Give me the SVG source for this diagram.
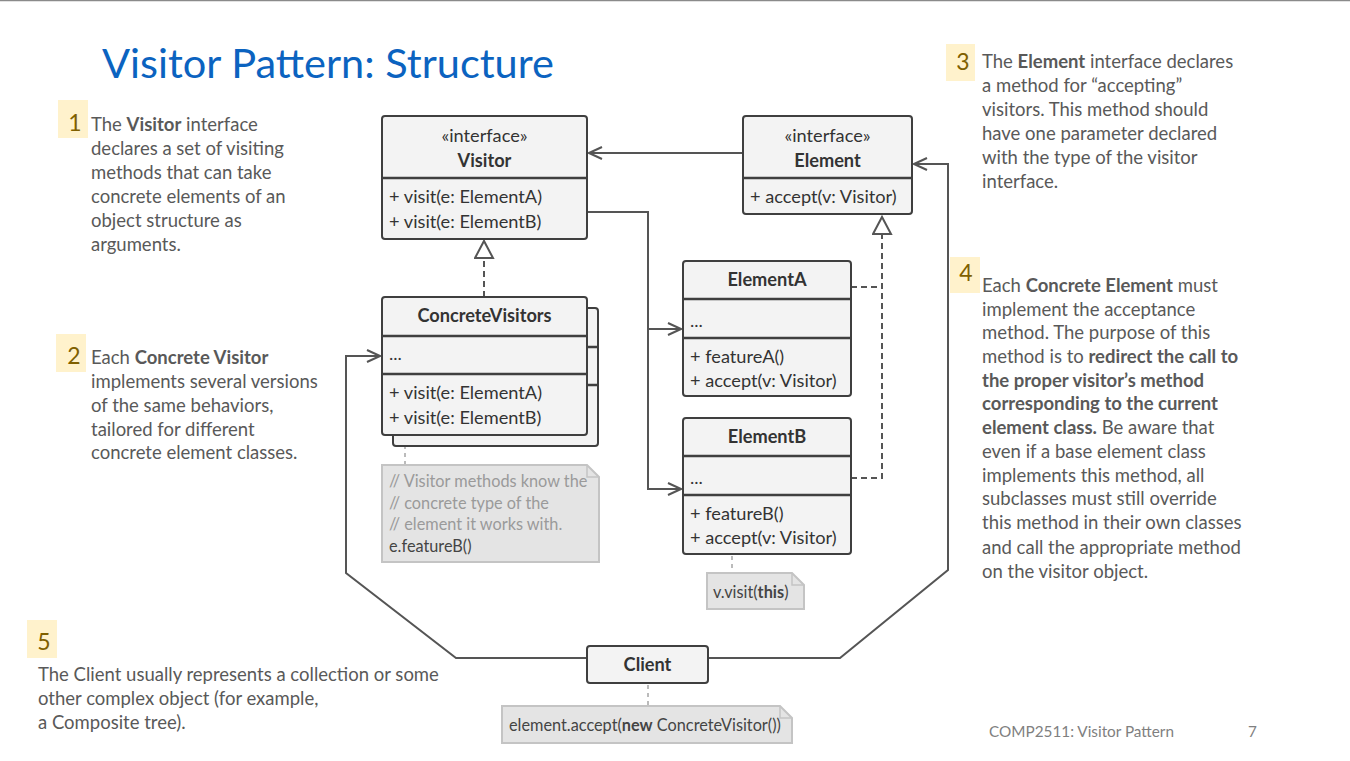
<svg xmlns="http://www.w3.org/2000/svg" width="1350" height="761" viewBox="0 0 1350 761">
<style>
.bg{fill:#ffffff}
.box{fill:#f3f3f3;stroke:#3f3f3f;stroke-width:2}
.div{stroke:#3f3f3f;stroke-width:2.5}
.t{font-family:"Lato","Noto Sans","Liberation Sans",sans-serif;font-size:18.2px;fill:#333}
.b{font-weight:bold}
.c{text-anchor:middle}
.note{fill:#e4e4e4;stroke:#c4c4c4;stroke-width:2}
.nt{font-family:"Lato","Noto Sans","Liberation Sans",sans-serif;font-size:16.3px;fill:#9a9a9a}
.nd{fill:#444}
.con{fill:none;stroke:#555;stroke-width:2}
.dash{fill:none;stroke:#555;stroke-width:2;stroke-dasharray:6,4}
.ndash{fill:none;stroke:#bbb;stroke-width:2;stroke-dasharray:4,4}
.ann{font-family:"Lato","Liberation Sans",sans-serif;font-size:18.5px;fill:#595959}
.badge{fill:#fff2cc}
.num{font-family:"Lato","Liberation Sans",sans-serif;font-size:23px;fill:#7f6000;text-anchor:middle}
.title{font-family:"Lato","Liberation Sans",sans-serif;font-size:41.5px;fill:#0b63c0}
.foot{font-family:"Lato","Liberation Sans",sans-serif;font-size:15.3px;fill:#808080}
</style>
<defs>
<marker id="open" markerWidth="16" markerHeight="16" refX="14" refY="7" orient="auto" markerUnits="userSpaceOnUse"><path d="M1,1 L14,7 L1,13" fill="none" stroke="#555" stroke-width="2" stroke-dasharray="none"/></marker>
<marker id="tri" markerWidth="24" markerHeight="24" refX="19" refY="10" orient="auto" markerUnits="userSpaceOnUse"><path d="M2,1 L19,10 L2,19 Z" fill="#ffffff" stroke="#555" stroke-width="2" stroke-dasharray="none"/></marker>
</defs>
<rect class="bg" x="0" y="0" width="1350" height="761"/>
<line x1="0" y1="0.5" x2="1350" y2="0.5" stroke="#8a8a8a" stroke-width="1.5"/>

<text class="title" x="102" y="78">Visitor Pattern: Structure</text>

<g id="connectors">
<path class="con" d="M743,153 H589" marker-end="url(#open)"/>
<path class="dash" d="M484,297 V241" marker-end="url(#tri)"/>
<path class="dash" d="M851,478 H882 V217" marker-end="url(#tri)"/>
<path class="dash" d="M851,287 H882"/>
<path class="con" d="M587,212 H648 V489 H681" marker-end="url(#open)"/>
<path class="con" d="M648,329 H681" marker-end="url(#open)"/>
<path class="con" d="M587,658 H456 L346,573 V356 H380" marker-end="url(#open)"/>
<path class="con" d="M708,658 H840 L948,570 V164 H914" marker-end="url(#open)"/>
<path class="ndash" d="M405,437 V465"/>
<path class="ndash" d="M732,556 V573"/>
<path class="ndash" d="M648,685 V706"/>
</g>

<g id="visitor">
<rect class="box" x="382" y="116" width="205" height="123" rx="3"/>
<line class="div" x1="382" y1="178" x2="587" y2="178"/>
<text class="t c" x="484.5" y="142">«interface»</text>
<text class="t c b" x="484.5" y="167">Visitor</text>
<text class="t" x="389" y="203">+ visit(e: ElementA)</text>
<text class="t" x="389" y="228">+ visit(e: ElementB)</text>
</g>

<g id="element">
<rect class="box" x="743" y="116" width="169" height="98" rx="3"/>
<line class="div" x1="743" y1="178" x2="912" y2="178"/>
<text class="t c" x="827.5" y="142">«interface»</text>
<text class="t c b" x="827.5" y="167">Element</text>
<text class="t" x="750" y="203">+ accept(v: Visitor)</text>
</g>

<g id="concrete-visitors">
<rect class="box" x="393" y="308" width="205" height="138" rx="3"/>
<line class="div" x1="393" y1="347" x2="598" y2="347"/>
<line class="div" x1="393" y1="385" x2="598" y2="385"/>
<rect class="box" x="382" y="297" width="205" height="138" rx="3"/>
<line class="div" x1="382" y1="336" x2="587" y2="336"/>
<line class="div" x1="382" y1="374" x2="587" y2="374"/>
<text class="t c b" x="484.5" y="322">ConcreteVisitors</text>
<text class="t" x="389" y="360">...</text>
<text class="t" x="389" y="399">+ visit(e: ElementA)</text>
<text class="t" x="389" y="424">+ visit(e: ElementB)</text>
</g>

<g id="note-visitor">
<path class="note" d="M382,465 H587 L599,477 V562 H382 Z"/>
<path d="M587,465 V477 H599" fill="none" stroke="#c4c4c4" stroke-width="1.5"/>
<text class="nt" x="389" y="487">// Visitor methods know the</text>
<text class="nt" x="389" y="509">// concrete type of the</text>
<text class="nt" x="389" y="530">// element it works with.</text>
<text class="nt nd" x="389" y="552">e.featureB()</text>
</g>

<g id="elementA">
<rect class="box" x="683" y="261" width="168" height="135" rx="3"/>
<line class="div" x1="683" y1="299" x2="851" y2="299"/>
<line class="div" x1="683" y1="338" x2="851" y2="338"/>
<text class="t c b" x="767" y="286">ElementA</text>
<text class="t" x="690" y="327">...</text>
<text class="t" x="690" y="363">+ featureA()</text>
<text class="t" x="690" y="387">+ accept(v: Visitor)</text>
</g>

<g id="elementB">
<rect class="box" x="683" y="418" width="168" height="136" rx="3"/>
<line class="div" x1="683" y1="456" x2="851" y2="456"/>
<line class="div" x1="683" y1="495" x2="851" y2="495"/>
<text class="t c b" x="767" y="443">ElementB</text>
<text class="t" x="690" y="484">...</text>
<text class="t" x="690" y="520">+ featureB()</text>
<text class="t" x="690" y="544">+ accept(v: Visitor)</text>
</g>

<g id="note-element">
<path class="note" d="M707,573 H792 L804,585 V609 H707 Z"/>
<path d="M792,573 V585 H804" fill="none" stroke="#c4c4c4" stroke-width="1.5"/>
<text class="nt nd" x="713" y="598">v.visit(<tspan class="b">this</tspan>)</text>
</g>

<g id="client">
<rect class="box" x="587" y="646" width="121" height="37" rx="3"/>
<text class="t c b" x="647.5" y="671">Client</text>
</g>

<g id="note-client">
<path class="note" d="M502,706 H780 L792,718 V743 H502 Z"/>
<path d="M780,706 V718 H792" fill="none" stroke="#c4c4c4" stroke-width="1.5"/>
<text class="nt nd" x="509" y="731">element.accept(<tspan class="b">new</tspan> ConcreteVisitor())</text>
</g>

<g id="ann1">
<rect class="badge" x="58" y="100" width="30" height="38"/>
<text class="num" x="75" y="131">1</text>
<text class="ann" x="91" y="131">The <tspan class="b">Visitor</tspan> interface</text>
<text class="ann" x="91" y="155">declares a set of visiting</text>
<text class="ann" x="91" y="179">methods that can take</text>
<text class="ann" x="91" y="203">concrete elements of an</text>
<text class="ann" x="91" y="227">object structure as</text>
<text class="ann" x="91" y="251">arguments.</text>
</g>

<g id="ann2">
<rect class="badge" x="56" y="334" width="30" height="38"/>
<text class="num" x="74" y="364">2</text>
<text class="ann" x="91" y="364">Each <tspan class="b">Concrete Visitor</tspan></text>
<text class="ann" x="91" y="388">implements several versions</text>
<text class="ann" x="91" y="412">of the same behaviors,</text>
<text class="ann" x="91" y="436">tailored for different</text>
<text class="ann" x="91" y="459">concrete element classes.</text>
</g>

<g id="ann3">
<rect class="badge" x="946" y="44" width="29" height="37"/>
<text class="num" x="963" y="70">3</text>
<text class="ann" x="982" y="68">The <tspan class="b">Element</tspan> interface declares</text>
<text class="ann" x="982" y="92">a method for “accepting”</text>
<text class="ann" x="982" y="116">visitors. This method should</text>
<text class="ann" x="982" y="140">have one parameter declared</text>
<text class="ann" x="982" y="164">with the type of the visitor</text>
<text class="ann" x="982" y="188">interface.</text>
</g>

<g id="ann4">
<rect class="badge" x="950" y="257" width="30" height="36"/>
<text class="num" x="966" y="281">4</text>
<text class="ann" x="982" y="292">Each <tspan class="b">Concrete Element</tspan> must</text>
<text class="ann" x="982" y="316">implement the acceptance</text>
<text class="ann" x="982" y="339">method. The purpose of this</text>
<text class="ann" x="982" y="363">method is to <tspan class="b">redirect the call to</tspan></text>
<text class="ann b" x="982" y="387">the proper visitor’s method</text>
<text class="ann b" x="982" y="410">corresponding to the current</text>
<text class="ann" x="982" y="434"><tspan class="b">element class.</tspan> Be aware that</text>
<text class="ann" x="982" y="458">even if a base element class</text>
<text class="ann" x="982" y="482">implements this method, all</text>
<text class="ann" x="982" y="505">subclasses must still override</text>
<text class="ann" x="982" y="529">this method in their own classes</text>
<text class="ann" x="982" y="554">and call the appropriate method</text>
<text class="ann" x="982" y="578">on the visitor object.</text>
</g>

<g id="ann5">
<rect class="badge" x="27" y="620" width="30" height="38"/>
<text class="num" x="44" y="650">5</text>
<text class="ann" x="38" y="681">The Client usually represents a collection or some</text>
<text class="ann" x="38" y="705">other complex object (for example,</text>
<text class="ann" x="38" y="729">a Composite tree).</text>
</g>

<g id="footer">
<text class="foot" x="989" y="737">COMP2511: Visitor Pattern</text>
<text class="foot" x="1248" y="737">7</text>
</g>
</svg>
